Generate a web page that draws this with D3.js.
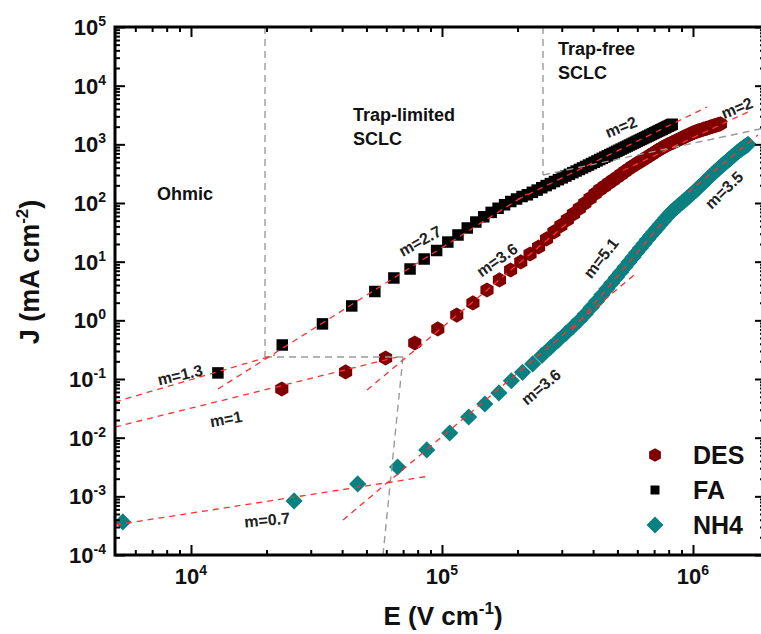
<!DOCTYPE html>
<html>
<head>
<meta charset="utf-8">
<script src="https://cdn.jsdelivr.net/npm/d3@7"></script>
<style>
  body { margin: 0; background: #fff; }
  svg { display: block; }
  text { font-family: "Liberation Sans", Arial, Helvetica, sans-serif; }
</style>
</head>
<body>
<svg id="chart" width="761" height="634"></svg>
<script>
// ---- J–E characteristics (E in V/cm, J in mA/cm^2) ----
const faE = [12800, 23100, 33400, 43700, 54000, 64300, 74600, 84900, 95200, 105500, 115800, 126100, 136400, 146700, 157000, 167300, 177600, 187900, 198200, 208500, 218800, 229100, 239400, 249700, 260000, 270300, 280600, 290900, 301200, 311500, 321800, 332100, 342400, 352700, 363000, 373300, 383600, 393900, 404200, 414500, 424800, 435100, 445400, 455700, 466000, 476300, 486600, 496900, 507200, 517500, 527800, 538100, 548400, 558700, 569000, 579300, 589600, 599900, 610200, 620500, 630800, 641100, 651400, 661700, 672000, 682300, 692600, 702900, 713200, 723500, 733800, 744100, 754400, 764700, 775000, 785300, 795600, 805900, 816200, 826500];
const faJ = [0.127, 0.38, 0.87, 1.76, 3.1, 5.27, 7.5, 11.1, 15.5, 21.6, 28.5, 37.5, 47.4, 58.2, 69.2, 81.3, 93.3, 106, 117, 129, 138, 152, 166, 182, 198, 214, 232, 250, 268, 288, 308, 329, 351, 373, 396, 420, 444, 470, 495, 522, 550, 578, 607, 637, 667, 698, 730, 762, 796, 830, 865, 900, 936, 973, 1010, 1050, 1089, 1130, 1170, 1211, 1253, 1297, 1340, 1384, 1429, 1476, 1521, 1570, 1618, 1667, 1718, 1766, 1820, 1871, 1923, 1977, 2032, 2089, 2143, 2198];

const desE = [23000, 41300, 59600, 77900, 96200, 114500, 132800, 151100, 169400, 187700, 206000, 224300, 242600, 260900, 279200, 297500, 315800, 334100, 352400, 370700, 389000, 407300, 425600, 443900, 462200, 480500, 498800, 517100, 535400, 553700, 572000, 590300, 608600, 626900, 645200, 663500, 681800, 700100, 718400, 736700, 755000, 773300, 791600, 809900, 828200, 846500, 864800, 883100, 901400, 919700, 938000, 956300, 974600, 992900, 1011200, 1029500, 1047800, 1066100, 1084400, 1102700, 1121000, 1139300, 1157600, 1175900, 1194200, 1212500, 1230800, 1249100, 1267400, 1285700];
const desJ = [0.0676, 0.132, 0.228, 0.411, 0.713, 1.23, 1.98, 3.29, 4.88, 7.21, 9.89, 13.5, 17.8, 24.4, 32.1, 41.1, 52.0, 65.2, 80.7, 98.9, 120, 144, 169, 192, 218, 245, 275, 308, 343, 380, 417, 454, 493, 533, 577, 622, 668, 718, 771, 824, 877, 928, 976, 1024, 1071, 1119, 1169, 1222, 1276, 1330, 1385, 1440, 1495, 1548, 1598, 1645, 1690, 1732, 1772, 1812, 1853, 1892, 1936, 1977, 2018, 2061, 2104, 2148, 2188, 2234];

const nh4E = [5350, 25750, 46150, 66550, 86950, 107350, 127750, 148150, 168550, 188950, 209350, 229750, 250150, 270550, 290950, 311350, 331750, 352150, 372550, 392950, 413350, 433750, 454150, 474550, 494950, 515350, 535750, 556150, 576550, 596950, 617350, 637750, 658150, 678550, 698950, 719350, 739750, 760150, 780550, 800950, 821350, 841750, 862150, 882550, 902950, 923350, 943750, 964150, 984550, 1004950, 1025350, 1045750, 1066150, 1086550, 1106950, 1127350, 1147750, 1168150, 1188550, 1208950, 1229350, 1249750, 1270150, 1290550, 1310950, 1331350, 1351750, 1372150, 1392550, 1412950, 1433350, 1453750, 1474150, 1494550, 1514950, 1535350, 1555750, 1576150, 1596550, 1616950, 1637350, 1657750];
const nh4J = [3.66e-4, 8.34e-4, 1.63e-3, 3.16e-3, 6.17e-3, 0.0120, 0.0225, 0.0375, 0.0578, 0.0933, 0.130, 0.181, 0.252, 0.344, 0.458, 0.598, 0.772, 0.990, 1.28, 1.66, 2.13, 2.72, 3.45, 4.33, 5.38, 6.62, 8.12, 9.90, 11.9, 14.4, 17.1, 20.3, 23.9, 27.9, 32.3, 37.3, 42.9, 49.0, 55.8, 63.2, 70.8, 78.0, 85.3, 93.1, 101, 110, 119, 129, 140, 151, 164, 178, 193, 208, 225, 242, 261, 281, 301, 323, 346, 369, 392, 417, 442, 468, 495, 524, 553, 583, 615, 649, 684, 719, 755, 790, 824, 858, 892, 927, 963, 1000];

// power-law fits J ~ E^m : [E0, J0, E1, J1]
const fitLines = [
  [4980, 0.0406, 21600, 0.257],      // FA, m = 1.3
  [12810, 0.0676, 218800, 144],      // FA, m = 2.7
  [200000, 114, 1137000, 4325],      // FA, m = 2
  [4980, 0.0152, 66200, 0.237],      // DES, m = 1
  [50260, 0.065, 316000, 45.4],      // DES, m = 3.6
  [525000, 358, 1687000, 3700],      // DES, m = 2
  [4980, 3.25e-4, 89600, 2.22e-3],   // NH4, m = 0.7
  [40330, 3.95e-4, 587000, 6.1],     // NH4, m = 3.6
  [331000, 0.695, 758600, 47.6],     // NH4, m = 5.1
  [955000, 152, 1816000, 1442]       // NH4, m = 3.5
];
// regime boundaries
const guideLines = [
  [19720, 1e5, 19720, 0.237],
  [19720, 0.237, 69900, 0.237],
  [69900, 0.237, 58200, 1e-4],
  [252600, 1e5, 252600, 300],
  [252600, 300, 1936000, 1899]
];
// slope labels: text, E, J, angle
const slopeLabels = [
  ["m=1.3", 9042, 0.117, -13],
  ["m=1", 13790, 0.0208, -10],
  ["m=0.7", 20090, 3.95e-4, -5],
  ["m=2.7", 81700, 22.5, -29],
  ["m=3.6", 165600, 10.7, -35],
  ["m=3.6", 248000, 0.0731, -40],
  ["m=5.1", 430000, 11.55, -52],
  ["m=3.5", 1329000, 166.7, -44],
  ["m=2", 516700, 1975, -22],
  ["m=2", 1497000, 4163, -22]
];
// regime names: lines, E, J of first baseline
const regionLabels = [
  [["Ohmic"], 7320, 112.5],
  [["Trap-limited", "SCLC"], 44200, 2500],
  [["Trap-free", "SCLC"], 289800, 33330]
];
const xMajor = [1e4, 1e5, 1e6];
const yMajor = [1e-4, 1e-3, 1e-2, 1e-1, 1e0, 1e1, 1e2, 1e3, 1e4, 1e5];

const series = [
  { name: "DES", E: desE, J: desJ, color: "#800000", shape: "hex" },
  { name: "FA",  E: faE,  J: faJ,  color: "#000000", shape: "square" },
  { name: "NH4", E: nh4E, J: nh4J, color: "#0a8080", shape: "diamond" }
];

const svg = d3.select("#chart");
const xS = d3.scaleLog().domain([4980, 1.936e6]).range([115, 765]);
const yS = d3.scaleLog().domain([1e-4, 1e5]).range([555, 27]);
const [L, R] = xS.range();
const [B, T] = yS.range();

svg.append("defs").append("clipPath").attr("id", "plotClip")
  .append("rect").attr("x", L).attr("y", T).attr("width", R - L).attr("height", B - T);

// marker shapes
function markerPath(shape, s) {
  if (shape === "square") {
    const h = s / 2;
    return `M${-h},${-h}H${h}V${h}H${-h}Z`;
  }
  if (shape === "diamond") {
    return `M0,${-s}L${s},0L0,${s}L${-s},0Z`;
  }
  const pts = d3.range(6).map(i => {
    const a = Math.PI / 6 + i * Math.PI / 3;
    return [s * Math.cos(a), s * Math.sin(a)];
  });
  return "M" + pts.map(p => p.join(",")).join("L") + "Z";
}
const markerSize = { square: 11.5, hex: 7.6, diamond: 8.6 };

// data markers
const gData = svg.append("g");
series.forEach(s => {
  gData.append("g").selectAll("path")
    .data(s.E.map((e, i) => [e, s.J[i]]))
    .join("path")
    .attr("d", markerPath(s.shape, markerSize[s.shape]))
    .attr("transform", d => `translate(${xS(d[0])},${yS(d[1])})`)
    .attr("fill", s.color);
});

// fit and guide lines
const gLines = svg.append("g").attr("clip-path", "url(#plotClip)");
gLines.selectAll("line.guide").data(guideLines).join("line")
  .attr("class", "guide")
  .attr("x1", d => xS(d[0])).attr("y1", d => yS(d[1]))
  .attr("x2", d => xS(d[2])).attr("y2", d => yS(d[3]))
  .attr("stroke", "#9a9a9a").attr("stroke-width", 1.4)
  .attr("stroke-dasharray", "7,5");
gLines.selectAll("line.fit").data(fitLines).join("line")
  .attr("class", "fit")
  .attr("x1", d => xS(d[0])).attr("y1", d => yS(d[1]))
  .attr("x2", d => xS(d[2])).attr("y2", d => yS(d[3]))
  .attr("stroke", "#ff3030").attr("stroke-width", 1.3)
  .attr("stroke-dasharray", "6,5");

// frame and ticks (inward on all four sides)
function minorTicks(scale) {
  const [a, b] = scale.domain();
  const out = [];
  for (let d = Math.floor(Math.log10(a)); d <= Math.ceil(Math.log10(b)); d++) {
    for (let k = 2; k <= 9; k++) {
      const v = k * Math.pow(10, d);
      if (v > a * 1.01 && v < b * 0.99) out.push(v);
    }
  }
  return out;
}
function tickAxis(gen, tr, values, size) {
  svg.append("g").attr("transform", tr)
    .call(gen.tickValues(values).tickSizeInner(-size).tickSizeOuter(0).tickFormat(""))
    .call(g => g.select(".domain").remove())
    .call(g => g.selectAll("line").attr("stroke", "#000").attr("stroke-width", 2));
}
const xMinor = minorTicks(xS), yMinor = minorTicks(yS);
tickAxis(d3.axisBottom(xS), `translate(0,${B})`, xMajor, 10);
tickAxis(d3.axisBottom(xS), `translate(0,${B})`, xMinor, 5);
tickAxis(d3.axisTop(xS), `translate(0,${T})`, xMajor, 10);
tickAxis(d3.axisTop(xS), `translate(0,${T})`, xMinor, 5);
tickAxis(d3.axisLeft(yS), `translate(${L},0)`, yMajor, 10);
tickAxis(d3.axisLeft(yS), `translate(${L},0)`, yMinor, 5);
tickAxis(d3.axisRight(yS), `translate(${R},0)`, yMajor, 10);
tickAxis(d3.axisRight(yS), `translate(${R},0)`, yMinor, 5);
svg.append("rect").attr("x", L).attr("y", T).attr("width", R - L).attr("height", B - T)
  .attr("fill", "none").attr("stroke", "#000").attr("stroke-width", 3);

// tick labels as powers of ten
function powLabel(sel, exp) {
  sel.append("tspan").text("10");
  sel.append("tspan").attr("dy", -9).attr("font-size", 14).text(exp);
}
yMajor.forEach(v => {
  const t = svg.append("text").attr("x", 106).attr("y", yS(v) + 8)
    .attr("text-anchor", "end").attr("font-size", 22).attr("font-weight", "bold").attr("fill", "#111");
  powLabel(t, Math.round(Math.log10(v)));
});
xMajor.forEach(v => {
  const t = svg.append("text").attr("x", xS(v)).attr("y", 584)
    .attr("text-anchor", "middle").attr("font-size", 22).attr("font-weight", "bold").attr("fill", "#111");
  powLabel(t, Math.round(Math.log10(v)));
});

// axis titles
const xt = svg.append("text").attr("x", 443).attr("y", 625).attr("text-anchor", "middle")
  .attr("font-size", 26).attr("font-weight", "bold").attr("fill", "#111");
xt.append("tspan").text("E (V cm");
xt.append("tspan").attr("dy", -11).attr("font-size", 17).text("-1");
xt.append("tspan").attr("dy", 11).text(")");
const yt = svg.append("text").attr("transform", "translate(39,272) rotate(-90)").attr("text-anchor", "middle")
  .attr("font-size", 27).attr("font-weight", "bold").attr("fill", "#111");
yt.append("tspan").text("J (mA cm");
yt.append("tspan").attr("dy", -11).attr("font-size", 17).text("-2");
yt.append("tspan").attr("dy", 11).text(")");

// regime names
regionLabels.forEach(([lines, e, j]) => {
  const t = svg.append("text").attr("font-size", 18).attr("font-weight", "bold").attr("fill", "#111");
  lines.forEach((s, i) => t.append("tspan").attr("x", xS(e)).attr("y", yS(j) + i * 24).text(s));
});

// slope labels
slopeLabels.forEach(([s, e, j, a]) => {
  svg.append("text")
    .attr("transform", `translate(${xS(e)},${yS(j)}) rotate(${a})`)
    .attr("text-anchor", "middle").attr("dy", "0.35em")
    .attr("font-size", 16).attr("font-weight", "bold").attr("fill", "#222")
    .text(s);
});

// legend
const leg = svg.append("g").attr("transform", "translate(655,455)");
series.forEach((s, i) => {
  const g = leg.append("g").attr("transform", `translate(0,${i * 35})`);
  const sz = { square: 9, hex: 6.8, diamond: 8.5 }[s.shape];
  g.append("path").attr("d", markerPath(s.shape, sz)).attr("fill", s.color);
  g.append("text").attr("x", 38).attr("y", 9).attr("font-size", 25)
    .attr("font-weight", "bold").attr("fill", "#111").text(s.name);
});
</script>
</body>
</html>
